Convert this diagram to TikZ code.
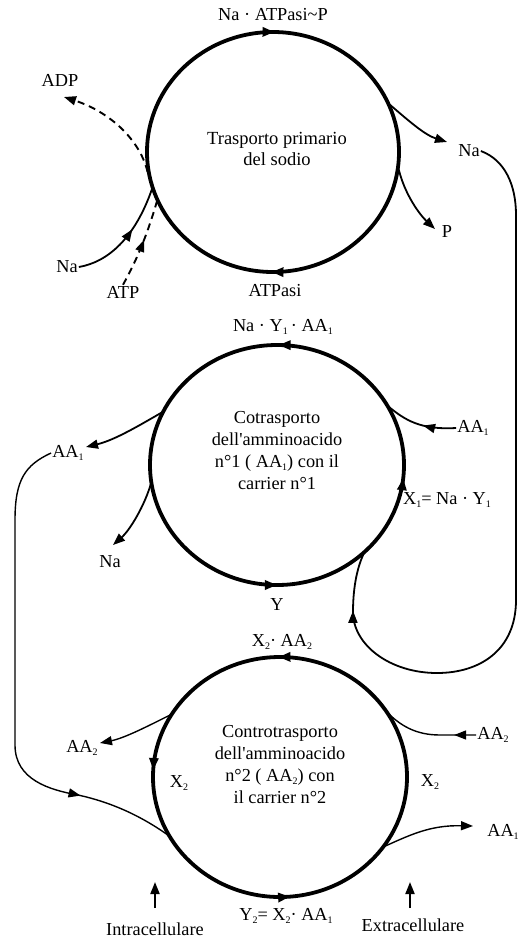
\documentclass[tikz,border=0pt]{standalone}
\usepackage{fontspec}
\setmainfont{Liberation Serif}[Ligatures=TeXOff]
\usetikzlibrary{arrows.meta,shapes.geometric,decorations.markings}
\newcommand{\lo}[1]{\raisebox{-0.35ex}{\fontsize{10}{10}\selectfont #1}}
\begin{document}
\begin{tikzpicture}[x=1pt,y=-1pt,
  lbl/.style={font=\fontsize{18.3}{22}\selectfont, inner sep=1pt},
  ctext/.style={align=center, font=\fontsize{18.3}{22}\selectfont, inner sep=0pt},
  body/.style={ellipse, minimum width=254pt, minimum height=240pt, inner sep=0pt},
  ring/.style={line width=3.8pt},
  conn/.style={line width=1.8pt},
  fine/.style={line width=1.4pt},
  dsh/.style={line width=1.9pt, dash pattern=on 7pt off 5pt},
  tip/.style={-{Triangle[length=12pt,width=9pt]}},
  tri/.tip={Triangle[length=12pt,width=9pt]},
  midarr/.style={postaction={decorate},decoration={markings,mark=at position #1 with {\arrow{tri}}}},
]
\useasboundingbox (0,0) rectangle (518,938);

% ---------- circle 1 ----------
\node[body] (c1) at (273,152) {};
\node[ctext, font=\fontsize{18.5}{21}\selectfont] (c1t) at (277,149) {Trasporto primario\\del sodio};
\draw[ring, postaction={decorate}, decoration={markings,
   mark=at position 0.252 with {\arrow{tri}},
   mark=at position 0.752 with {\arrow{tri}}}]
   (c1.center) ellipse [x radius=126, y radius=120];

\node[lbl] (t1) at (273,15) {Na · ATPasi\textasciitilde P};
\node[lbl] (b1) at (275,291) {ATPasi};
\node[lbl] (adp) at (60,80) {ADP};
\node[lbl] (na0) at (67,267) {Na};
\node[lbl] (atp) at (123,292) {ATP};
\node[lbl] (nar) at (469,151) {Na};
\node[lbl] (p) at (447,232) {P};

\coordinate (adpend) at (64,97);
\coordinate (narend) at (447,142);
\coordinate (pend) at (435,229);

\draw[conn, midarr=0.6] (na0.east) .. controls (108,262) and (135,238) .. (c1.197);
\draw[dsh, midarr=0.55] (atp.north) .. controls (138,258) and (148,232) .. (c1.203);
\draw[dsh, tip] (c1.189) .. controls (140,140) and (110,112) .. (adpend);
\draw[conn, tip] (c1.22) .. controls (410,122) and (425,135) .. (narend);
\draw[conn, tip] (c1.-8) .. controls (405,195) and (420,215) .. (pend);

% ---------- circle 2 ----------
\node[body] (c2) at (277,465) {};
\node[ctext] (c2t) at (277,451) {Cotrasporto\\dell'amminoacido\\n°1 ( AA\lo{1}) con il\\carrier n°1};
\draw[ring, postaction={decorate}, decoration={markings,
   mark=at position 0.017 with {\arrowreversed{tri}},
   mark=at position 0.25 with {\arrowreversed{tri}},
   mark=at position 0.752 with {\arrowreversed{tri}}}]
   (c2.center) ellipse [x radius=127, y radius=120];

\node[lbl] (t2) at (283,327) {Na · Y\lo{1}\,· AA\lo{1}};
\node[lbl] (b2) at (277,604) {Y};
\node[lbl] (aa1r) at (473,428) {AA\lo{1}};
\node[lbl] (x1) at (447,500) {X\lo{1}= Na · Y\lo{1}};
\node[lbl] (aa1l) at (68,453) {AA\lo{1}};
\node[lbl] (na2) at (110,562) {Na};

\coordinate (aa1lend) at (86,447);
\coordinate (na2end) at (113,545);

\draw[conn, midarr=0.45] (aa1r.west) .. controls (420,430) and (405,420) .. (c2.28);
\draw[conn, tip] (c2.155) .. controls (140,425) and (115,440) .. (aa1lend);
\draw[conn, tip] (c2.188) .. controls (145,505) and (130,530) .. (na2end);

% long Na path from circle 1 to circle 2
\draw[conn, postaction={decorate}, decoration={markings, mark=at position -60pt with {\arrow{tri}}}]
  (nar.east) .. controls (505,160) and (516,185) .. (516,215) -- (516,600)
  .. controls (516,650) and (480,673) .. (437,673)
  .. controls (390,673) and (353,645) .. (353,612)
  .. controls (353,585) and (358,565) .. (c2.-45);

% ---------- circle 3 ----------
\node[body] (c3) at (280,777) {};
\node[ctext] (c3t) at (280,765) {Controtrasporto\\dell'amminoacido\\n°2 ( AA\lo{2}) con\\il carrier n°2};
\draw[ring, postaction={decorate}, decoration={markings,
   mark=at position 0.237 with {\arrowreversed{tri}},
   mark=at position 0.509 with {\arrowreversed{tri}},
   mark=at position 0.748 with {\arrowreversed{tri}}}]
   (c3.center) ellipse [x radius=127, y radius=120];

\node[lbl] (t3) at (282,642) {X\lo{2}· AA\lo{2}};
\node[lbl] (b3) at (286,916) {Y\lo{2}= X\lo{2}· AA\lo{1}};
\node[lbl] (x2l) at (179,783) {X\lo{2}};
\node[lbl] (x2r) at (430,782) {X\lo{2}};
\node[lbl] (aa2l) at (82,748) {AA\lo{2}};
\node[lbl] (aa2r) at (493,735) {AA\lo{2}};
\node[lbl] (aa1o) at (503,832) {AA\lo{1}};
\node[lbl] (intra) at (155,929) {Intracellulare};
\node[lbl] (extra) at (413,925) {Extracellulare};

\coordinate (aa2lend) at (100,743);
\coordinate (aa1oend) at (473,826);
\coordinate (ia) at (155,908);
\coordinate (ib) at (155,882);
\coordinate (ea) at (410,908);
\coordinate (eb) at (410,882);

\draw[fine, tip] (c3.150) .. controls (150,725) and (125,738) .. (aa2lend);
\draw[fine, postaction={decorate}, decoration={markings, mark=at position 22pt with {\arrow{tri}}}]
  (aa2r.west) -- (440,735) .. controls (415,735) and (400,725) .. (c3.31);
\draw[fine, tip] (c3.-34) .. controls (410,835) and (430,825) .. (aa1oend);
\draw[fine, postaction={decorate}, decoration={markings, mark=at position -98pt with {\arrow{tri}}}]
  (aa1l.west) .. controls (25,465) and (15,480) .. (15,520) -- (15,745)
  .. controls (15,780) and (50,790) .. (78,795)
  .. controls (110,802) and (140,815) .. (c3.208);
\draw[conn, tip] (ia) -- (ib);
\draw[conn, tip] (ea) -- (eb);
\end{tikzpicture}
\end{document}
